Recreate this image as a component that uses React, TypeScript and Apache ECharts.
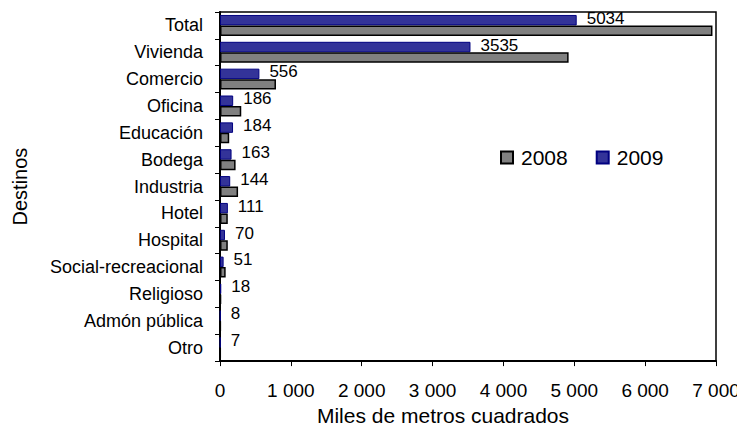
import React, { useEffect, useRef } from "react";
import * as echarts from "echarts";

const categories = [
  "Total",
  "Vivienda",
  "Comercio",
  "Oficina",
  "Educación",
  "Bodega",
  "Industria",
  "Hotel",
  "Hospital",
  "Social-recreacional",
  "Religioso",
  "Admón pública",
  "Otro",
];
const values2009 = [5034, 3535, 556, 186, 184, 163, 144, 111, 70, 51, 18, 8, 7];
const values2008 = [6950, 4920, 790, 300, 130, 220, 255, 110, 110, 80, 15, 10, 8];
const xTicks = [0, 1000, 2000, 3000, 4000, 5000, 6000, 7000];

const FONT = "'Liberation Sans', Arial, sans-serif";

export default function App() {
  const ref = useRef<HTMLDivElement>(null);
  useEffect(() => {
    if (!ref.current) return;
    const chart = echarts.init(ref.current, undefined, { renderer: "svg" });
    chart.setOption({
      animation: false,
      textStyle: { fontFamily: FONT, color: "#000" },
      grid: {
        left: 220,
        right: 29,
        top: 12,
        bottom: 69,
        show: true,
        borderColor: "#000",
        borderWidth: 1.5,
        backgroundColor: "transparent",
      },
      legend: {
        data: ["2008", "2009"],
        left: 495,
        top: 142,
        itemWidth: 12,
        itemHeight: 12,
        itemGap: 28,
        icon: "rect",
        textStyle: { fontFamily: FONT, fontSize: 21, color: "#000", padding: [0, 0, 0, 3] },
      },
      xAxis: {
        type: "value",
        min: xTicks[0],
        max: xTicks[xTicks.length - 1],
        interval: 1000,
        name: "Miles de metros cuadrados",
        nameLocation: "middle",
        nameGap: 41,
        nameTextStyle: { fontFamily: FONT, fontSize: 21, color: "#000", padding: [0, 50, 0, 0] },
        axisLine: { show: true, lineStyle: { color: "#000", width: 2 } },
        axisTick: { show: true, length: 5, lineStyle: { color: "#000", width: 1 } },
        splitLine: { show: false },
        axisLabel: {
          fontFamily: FONT,
          fontSize: 19,
          color: "#000",
          margin: 20,
          formatter: (v: number) => {
            if (v === 0) return "0";
            const s = String(v);
            return s.slice(0, s.length - 3) + " " + s.slice(s.length - 3);
          },
        },
      },
      yAxis: {
        type: "category",
        data: categories,
        inverse: true,
        name: "Destinos",
        nameLocation: "middle",
        nameRotate: 90,
        nameGap: 190,
        nameTextStyle: { fontFamily: FONT, fontSize: 20, color: "#000" },
        axisLine: { show: true, lineStyle: { color: "#000", width: 2 } },
        axisTick: { show: true, length: 5, lineStyle: { color: "#000", width: 1 } },
        axisLabel: { fontFamily: FONT, fontSize: 18, color: "#000", margin: 17 },
      },
      series: [
        {
          name: "2009",
          type: "bar",
          data: values2009,
          barGap: "0%",
          barCategoryGap: "22%",
          itemStyle: { color: "#333399", borderColor: "#000080", borderWidth: 1 },
          label: {
            show: true,
            position: "right",
            distance: 10,
            offset: [0, -2],
            fontFamily: FONT,
            fontSize: 17,
            color: "#000",
          },
        },
        {
          name: "2008",
          type: "bar",
          data: values2008,
          barGap: "0%",
          barCategoryGap: "22%",
          itemStyle: { color: "#808080", borderColor: "#000", borderWidth: 1.5 },
        },
      ],
    });
    return () => chart.dispose();
  }, []);
  return <div ref={ref} style={{ width: 745, height: 431, margin: -8 }} />;
}
